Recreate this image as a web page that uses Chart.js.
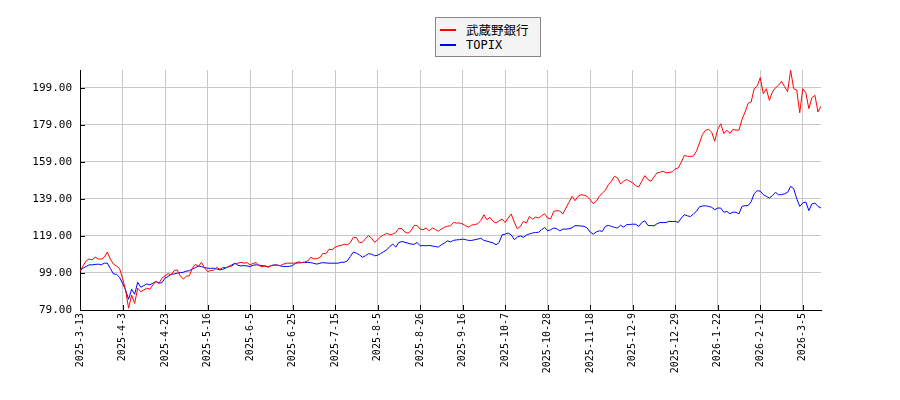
<!DOCTYPE html>
<html>
<head>
<meta charset="utf-8">
<script src="https://cdn.jsdelivr.net/npm/chart.js@4.4.1/dist/chart.umd.min.js"></script>
<style>
body { margin: 0; background: #fff; }
#wrap { position: relative; width: 900px; height: 400px; }
#legend { position: absolute; left: 435px; top: 17px; width: 104px; height: 38px; border: 1px solid #888; background: #f4f4f4; }
.row { position: absolute; left: 4px; height: 14px; }
.row i { position: absolute; left: 0; top: 6px; width: 16px; height: 2px; }
.row span { position: absolute; left: 26px; top: 0; white-space: nowrap; color: #000; }
.cjk { font: 12.5px "Noto Sans CJK JP", sans-serif; line-height: 14px; }
.mono { font: 12px "DejaVu Sans Mono", monospace; line-height: 14px; }
</style>
</head>
<body>
<div id="wrap">
  <canvas id="chart" width="900" height="400"></canvas>
  <div id="legend">
    <div class="row" style="top:5px"><i style="background:#ff0000"></i><span class="cjk" id="name0"></span></div>
    <div class="row" style="top:20px"><i style="background:#0000ff"></i><span class="mono" id="name1"></span></div>
  </div>
</div>
<script>
console.log('chart page loaded')

// x labels, one every 14 trading days
const tickLabels = ['2025-3-13', '2025-4-3', '2025-4-23', '2025-5-16', '2025-6-5', '2025-6-25',
  '2025-7-15', '2025-8-5', '2025-8-26', '2025-9-16', '2025-10-7', '2025-10-28', '2025-11-18',
  '2025-12-9', '2025-12-29', '2026-1-22', '2026-2-12', '2026-3-5']
const tickStep = 14
const yTicks = [79, 99, 119, 139, 159, 179, 199]
const seriesNames = ['武蔵野銀行', 'TOPIX']

// relative values, 100 = 2025-3-13
const musashino = [
  100, 102.8, 105.5, 106.6, 106.1, 107.6, 106.6, 106.5, 107.5, 110.3,
  106.5, 103.8, 102.8, 101.5, 96.2, 89.8, 80, 87.1, 82.6, 90.8,
  88.9, 89.8, 90.8, 90.2, 92.6, 94.4, 93.5, 96.2, 97.5, 98.6,
  98, 100.3, 100.7, 97.5, 95.7, 97.3, 97.5, 101.6, 103.7, 102.5,
  104.8, 101.8, 99.8, 100.3, 100.5, 102.1, 101, 101.9, 101.9, 102.3,
  102.8, 104, 104.3, 104.8, 104.3, 104.6, 103.4, 104.2, 104.6, 103,
  102.4, 102.8, 102.4, 103, 103.2, 103.2, 103, 103.8, 104.3, 104.3,
  104.3, 104.4, 104.3, 104.6, 104.9, 105.5, 107.5, 106.6, 106.8, 107.3,
  109.6, 109.4, 111.8, 111.6, 112.9, 113.6, 113.9, 114.5, 114.2, 115.4,
  118.3, 118.1, 115.4, 115.6, 117.5, 119.2, 117.8, 115.6, 116.9, 118.7,
  119.5, 120.5, 119.6, 120, 120.9, 123.1, 123, 121.1, 120.5, 121.8,
  124.7, 124.7, 122.7, 122.4, 123.3, 121.8, 123.3, 122.6, 121.6, 122.8,
  123.7, 124.3, 124.5, 126.3, 126, 126, 125.5, 124.5, 123.8, 124.9,
  125.2, 125.6, 127.4, 130.5, 127.8, 129, 126.9, 126, 127.2, 128.1,
  126.3, 128.7, 130.9, 126.5, 122.9, 124.2, 126.9, 126, 129.6, 128.1,
  129.2, 128.7, 129.9, 131, 128.7, 128.3, 132.3, 132.7, 132.5, 130.9,
  134.1, 137.2, 140.4, 138.1, 140.4, 141.3, 141, 140.4, 138.6, 136.5,
  137.7, 140.4, 142.2, 143.7, 146.8, 148.6, 151.3, 150.4, 147.1, 148.6,
  149.5, 148.6, 147.7, 146.2, 145.5, 148.6, 151.6, 149.5, 148.6, 150.9,
  153.1, 153.5, 154, 153.1, 153.4, 153.6, 155.2, 155.8, 158.9, 162.5,
  162.1, 162, 162.2, 164.8, 169.3, 173.9, 176.2, 176.6, 175.1, 170.2,
  176.6, 179.6, 174.4, 176.2, 174.4, 176.6, 176.2, 176.2, 182, 186,
  190.7, 191.4, 198.6, 200, 204.6, 195.9, 198.6, 192.3, 196.8, 199.1,
  200.4, 202.6, 199.7, 197, 208.5, 198.6, 197.9, 185.6, 198.6, 196.4,
  187.8, 193.7, 195, 186, 189.2
]

const topix = [
  100, 101.6, 102.5, 103.4, 103.4, 103.6, 103.8, 103.4, 104.3, 104.3,
  101.5, 98.5, 98.3, 96.7, 93.5, 89.8, 84.8, 90.2, 87.5, 94,
  91.3, 92.2, 93.1, 92.6, 93.5, 94.4, 93.5, 93.8, 96.2, 97.1,
  98.3, 98.5, 98.9, 99.2, 99.4, 100, 100.2, 101.2, 101.9, 102.8,
  102.5, 101.9, 101.6, 101.5, 101.6, 101.2, 100.7, 101, 101.7, 102.5,
  103.4, 104.3, 103.2, 102.8, 103, 102.8, 102.5, 103.2, 103.4, 103.2,
  103, 102.8, 102.1, 103, 103.4, 103.3, 102.8, 102.5, 102.5, 102.6,
  103, 104.3, 105, 104.6, 104.7, 104.8, 104.6, 104.2, 103.8, 104.3,
  104.6, 104.4, 104.3, 104.3, 104.3, 104.3, 104.8, 104.8, 105.5, 107.9,
  110.3, 109.7, 108.8, 107.5, 108.3, 109.4, 109.2, 108.3, 108.6, 109.5,
  110.5, 111.5, 113.3, 114.6, 113, 115.5, 116, 115.6, 115.1, 114.6,
  114.5, 115.5, 113.7, 113.8, 113.7, 113.9, 113.6, 113.3, 113, 114.3,
  115.1, 116.4, 115.8, 116.6, 116.9, 117, 117.3, 117, 116.6, 116.6,
  117, 117.3, 117.8, 116.6, 116.2, 115.7, 115.3, 114.2, 115.5, 119.6,
  120, 120.6, 119.6, 117, 118.4, 119, 118.3, 119.5, 120.1, 120.6,
  120.9, 121, 122.4, 123.6, 121.8, 122.4, 123.3, 122.9, 121.8, 122.7,
  122.7, 122.9, 123.4, 124.6, 124.5, 124.4, 124.2, 123.3, 121.1, 120,
  121.2, 121.8, 121.5, 124.2, 124.7, 124.2, 123.6, 123.3, 124.8, 123.8,
  125.1, 125.2, 125.4, 125.3, 124.2, 126.3, 127.2, 124.7, 124.6, 124.5,
  125.6, 126.3, 126.2, 126.3, 126.9, 126.8, 126.9, 126.3, 128.7, 130.5,
  129.9, 129.5, 130.9, 132.4, 134.8, 135.2, 135.3, 135, 134.5, 133.2,
  134.1, 134.1, 131.8, 132.3, 131, 131.9, 131.8, 131, 135, 135.4,
  135.4, 137.5, 141.9, 143.5, 143.2, 141.3, 140.4, 139.5, 140.8, 142.6,
  141.3, 141.3, 141.8, 142.6, 145.8, 144.6, 139.2, 135, 136.8, 137.4,
  132.7, 136.3, 136.8, 135, 134.1
]

document.querySelector('#name0').textContent = seriesNames[0]
document.querySelector('#name1').textContent = seriesNames[1]

// short black ticks drawn inside the plot area
const innerTicks = {
  id: 'innerTicks',
  afterDraw(chart) {
    const ctx = chart.ctx
    const area = chart.chartArea
    const xs = chart.scales.x
    const ys = chart.scales.y
    ctx.save()
    ctx.strokeStyle = '#000'
    ctx.lineWidth = 1
    ctx.beginPath()
    ys.ticks.forEach(t => {
      const y = Math.round(ys.getPixelForValue(t.value)) + 0.5
      ctx.moveTo(area.left, y)
      ctx.lineTo(area.left + 5, y)
    })
    xs.ticks.forEach(t => {
      const x = Math.round(xs.getPixelForValue(t.value)) + 0.5
      ctx.moveTo(x, area.bottom)
      ctx.lineTo(x, area.bottom - 5)
    })
    ctx.stroke()
    ctx.restore()
  }
}

function toPoints(values) {
  return values.map((v, i) => ({ x: i, y: v }))
}

new Chart(document.querySelector('#chart'), {
  type: 'line',
  data: {
    datasets: [{
      label: seriesNames[0],
      data: toPoints(musashino),
      borderColor: '#ff0000',
      borderWidth: 1,
      pointRadius: 0,
      tension: 0
    }, {
      label: seriesNames[1],
      data: toPoints(topix),
      borderColor: '#0000ff',
      borderWidth: 1,
      pointRadius: 0,
      tension: 0
    }]
  },
  options: {
    responsive: false,
    animation: false,
    devicePixelRatio: 1,
    layout: { padding: { top: 70, right: 79, left: 0, bottom: 0 } },
    plugins: { legend: { display: false }, tooltip: { enabled: false } },
    scales: {
      x: {
        type: 'linear',
        min: 0,
        max: musashino.length - 1,
        afterBuildTicks: s => { s.ticks = tickLabels.map((l, i) => ({ value: i * tickStep })) },
        afterFit: s => { s.height = 90 },
        ticks: {
          autoSkip: false,
          maxRotation: 90,
          minRotation: 90,
          padding: 3,
          color: '#000',
          font: { family: 'DejaVu Sans Mono', size: 10 },
          callback: v => tickLabels[Math.round(v / tickStep)]
        },
        grid: { color: '#c8c8c8', drawTicks: false },
        border: { color: '#000' }
      },
      y: {
        min: 79,
        max: 208.7,
        afterBuildTicks: s => { s.ticks = yTicks.map(v => ({ value: v })) },
        afterFit: s => { s.width = 80 },
        ticks: {
          padding: 8,
          color: '#000',
          font: { family: 'DejaVu Sans Mono', size: 11 },
          callback: v => v.toFixed(2)
        },
        grid: { color: '#c8c8c8', drawTicks: false },
        border: { color: '#000' }
      }
    }
  },
  plugins: [innerTicks]
})
</script>
</body>
</html>
